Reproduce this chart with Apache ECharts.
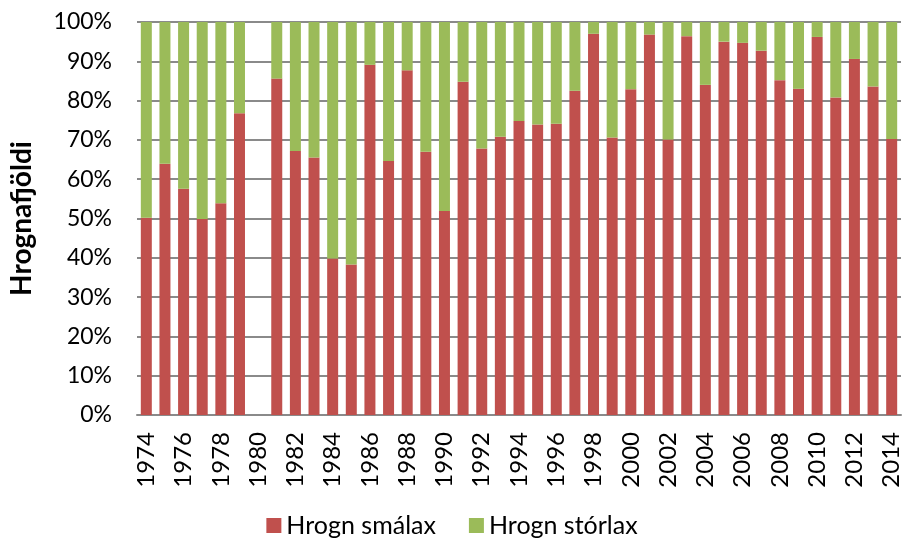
<!DOCTYPE html>
<html lang="is">
<head>
    <meta charset="UTF-8">
    <title>Hrognafjöldi</title>
    <script src="https://cdn.jsdelivr.net/npm/echarts@6.0.0/dist/echarts.min.js"></script>
    <style>
        body {
            margin: 0;
            padding: 0;
            background-color: #ffffff;
        }
        #chart {
            width: 904px;
            height: 540px;
        }
    </style>
</head>
<body>
    <div id="chart"></div>

    <script>
        // ár
        const years = [
            '1974', '1975', '1976', '1977', '1978', '1979', '1980', '1981', '1982', '1983',
            '1984', '1985', '1986', '1987', '1988', '1989', '1990', '1991', '1992', '1993',
            '1994', '1995', '1996', '1997', '1998', '1999', '2000', '2001', '2002', '2003',
            '2004', '2005', '2006', '2007', '2008', '2009', '2010', '2011', '2012', '2013',
            '2014'
        ];
        // hlutfall hrogna úr smálaxi (%)
        const smalax = [
            50.2, 63.9, 57.6, 49.9, 53.9, 76.8, null, 85.6, 67.2, 65.5,
            39.8, 38.3, 89.1, 64.6, 87.7, 67.0, 51.9, 84.8, 67.8, 70.8,
            74.8, 73.9, 74.1, 82.5, 97.0, 70.6, 82.9, 96.8, 70.1, 96.4,
            84.0, 95.0, 94.7, 92.7, 85.2, 83.0, 96.2, 80.8, 90.6, 83.6,
            70.2
        ];
        // hlutfall hrogna úr stórlaxi (%)
        const storlax = [
            49.8, 36.1, 42.4, 50.1, 46.1, 23.2, null, 14.4, 32.8, 34.5,
            60.2, 61.7, 10.9, 35.4, 12.3, 33.0, 48.1, 15.2, 32.2, 29.2,
            25.2, 26.1, 25.9, 17.5, 3.0, 29.4, 17.1, 3.2, 29.9, 3.6,
            16.0, 5.0, 5.3, 7.3, 14.8, 17.0, 3.8, 19.2, 9.4, 16.4,
            29.8
        ];

        const chart = echarts.init(document.getElementById('chart'));
        const font = 'Lato, "Open Sans", sans-serif';

        const option = {
            animation: false,
            textStyle: { fontFamily: font, color: '#000' },
            grid: { left: 134, right: 3, top: 22, bottom: 125 },
            legend: {
                top: 508,
                left: 'center',
                itemWidth: 15,
                itemHeight: 15,
                itemGap: 33,
                icon: 'rect',
                textStyle: { fontFamily: font, fontSize: 25, color: '#000' },
                data: ['Hrogn smálax', 'Hrogn stórlax']
            },
            xAxis: {
                type: 'category',
                data: years,
                axisTick: { show: false },
                axisLine: { lineStyle: { color: '#8a8a8a', width: 2 } },
                axisLabel: {
                    rotate: 90,
                    interval: 1,
                    fontSize: 24,
                    margin: 17,
                    color: '#000',
                    fontFamily: font
                }
            },
            yAxis: {
                type: 'value',
                min: 0,
                max: 100,
                interval: 10,
                name: 'Hrognafjöldi',
                nameLocation: 'middle',
                nameGap: 101,
                nameTextStyle: { fontSize: 28, fontWeight: 'bold', color: '#000', fontFamily: font },
                axisLine: { show: false },
                axisTick: { show: false },
                axisLabel: {
                    formatter: '{value}%',
                    fontSize: 23,
                    margin: 25,
                    color: '#000',
                    fontFamily: font
                },
                splitLine: { lineStyle: { color: '#8a8a8a', width: 2 } }
            },
            series: [
                {
                    name: 'Hrogn smálax',
                    type: 'bar',
                    stack: 'total',
                    barCategoryGap: '41%',
                    itemStyle: { color: '#c0504d' },
                    data: smalax
                },
                {
                    name: 'Hrogn stórlax',
                    type: 'bar',
                    stack: 'total',
                    barCategoryGap: '41%',
                    itemStyle: { color: '#9bbb59' },
                    data: storlax
                }
            ]
        };
        chart.setOption(option);
    </script>
</body>
</html>
